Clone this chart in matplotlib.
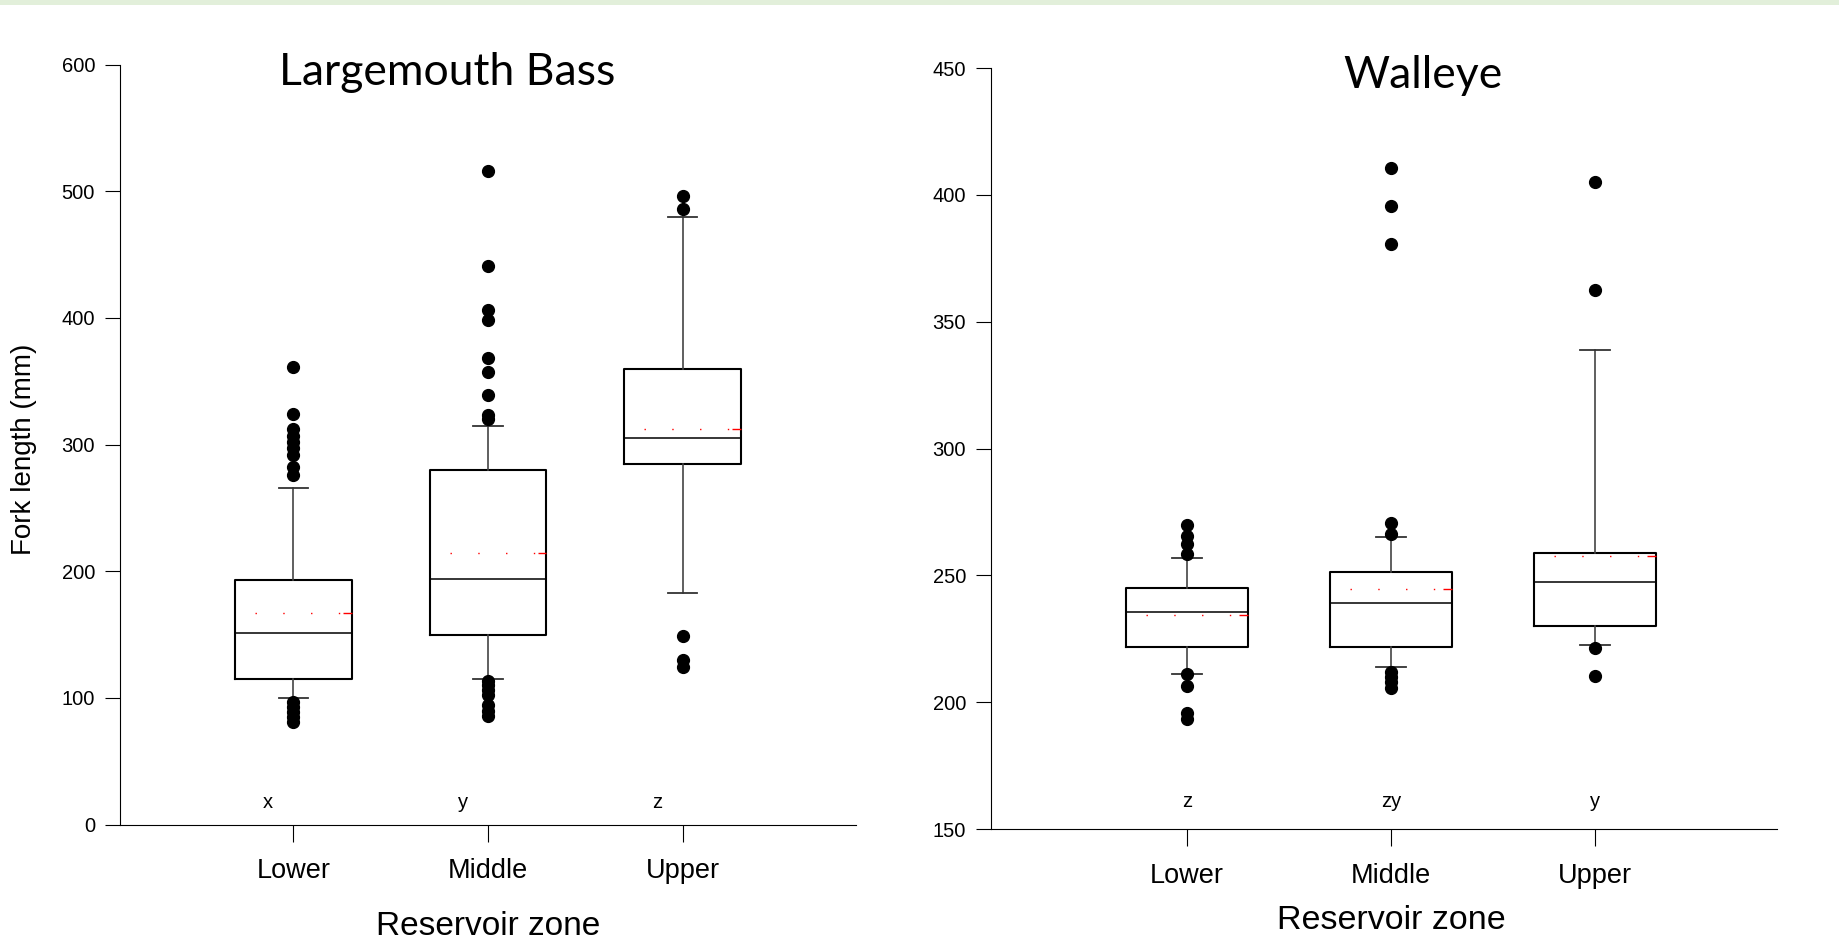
import matplotlib
matplotlib.use('Agg')
import matplotlib.pyplot as plt
from matplotlib.patches import Rectangle

plt.rcParams['font.family'] = ['Liberation Sans', 'DejaVu Sans']

zones = ['Lower', 'Middle', 'Upper']
positions = [1, 2, 3]

# Largemouth Bass fork length (mm)
bass_q1 = [115, 150, 285]
bass_med = [151, 194, 305]
bass_q3 = [193, 280, 360]
bass_lo = [100, 115, 183]
bass_hi = [266, 315, 480]
bass_mean = [167, 214, 312]
bass_fliers = [[361, 324, 312, 307, 302, 297, 292, 282, 276, 97, 93, 89, 85, 81],
               [516, 441, 406, 398, 368, 357, 339, 323, 320, 113, 110, 106, 102, 94, 90, 86],
               [496, 486, 149, 130, 124]]
bass_letters = ['x', 'y', 'z']

# Walleye fork length (mm)
walleye_q1 = [221.7, 222, 230]
walleye_med = [235.5, 239, 247.5]
walleye_q3 = [245.2, 251.5, 259]
walleye_lo = [211, 214, 222.5]
walleye_hi = [257, 265, 339]
walleye_mean = [234.5, 244.5, 257.7]
walleye_fliers = [[270, 265.5, 262.5, 258.5, 211, 206.5, 196, 193.5],
                  [410.5, 395.5, 380.5, 270.5, 266.5, 212, 210, 208, 205.5],
                  [405, 362.5, 221.5, 210.5]]
walleye_letters = ['z', 'zy', 'y']


def make_stats(q1, med, q3, lo, hi, mean, fliers):
    stats = []
    for i in range(len(q1)):
        stats.append({'q1': q1[i], 'med': med[i], 'q3': q3[i], 'whislo': lo[i],
                      'whishi': hi[i], 'mean': mean[i], 'fliers': fliers[i]})
    return stats


def draw_panel(ax, stats, title, title_x, ylim, yticks, letters, letter_y, letter_dx, xlim):
    w = 0.6
    ax.bxp(stats, positions=positions, widths=w, capwidths=0.15,
           showmeans=True, meanline=True, showfliers=True,
           boxprops=dict(color='black', lw=1.5),
           medianprops=dict(color='black', lw=1.1),
           whiskerprops=dict(color='#444444', lw=1.2),
           capprops=dict(color='#333333', lw=1.3),
           meanprops=dict(color='red', lw=1.0, linestyle=(5.6, (1, 19))),
           flierprops=dict(marker='o', markerfacecolor='black', markeredgecolor='black',
                           markersize=8.5, linestyle='none'))
    # short solid end of the mean line
    for p, s in zip(positions, stats):
        ax.hlines(s['mean'], p + w / 2 - 0.045, p + w / 2, colors='red', lw=1.0)

    for p, t in zip(positions, letters):
        ax.text(p + letter_dx, letter_y, t, ha='center', va='center', fontsize=14.5)

    ax.set_xlim(xlim)
    ax.set_ylim(ylim)
    ax.set_yticks(yticks)
    ax.set_xticks(positions)
    ax.set_xticklabels(zones, fontsize=19.5)
    ax.tick_params(axis='y', labelsize=14.5, length=11, width=0.8, pad=7, direction='out')
    ax.tick_params(axis='x', length=12, width=0.8, pad=12, direction='out')
    ax.spines['top'].set_visible(False)
    ax.spines['right'].set_visible(False)
    ax.spines['left'].set_linewidth(0.8)
    ax.spines['bottom'].set_linewidth(0.8)
    ax.text(title_x, 0.99, title, transform=ax.transAxes, ha='center', va='center',
            fontsize=32, family=['Lato', 'DejaVu Sans'])


fig = plt.figure(figsize=(18.39, 9.42), dpi=100)
fig.patches.append(Rectangle((0, 1 - 5 / 942), 1, 5 / 942, transform=fig.transFigure,
                             facecolor='#e2efda', edgecolor='none'))

ax1 = fig.add_axes([0.0653, 0.1247, 0.4002, 0.8068])
ax2 = fig.add_axes([0.5389, 0.1197, 0.4273, 0.8081])

draw_panel(ax1, make_stats(bass_q1, bass_med, bass_q3, bass_lo, bass_hi, bass_mean, bass_fliers),
           'Largemouth Bass', 0.444, (0, 600), range(0, 601, 100), bass_letters, 17.5, -0.13,
           (0.11, 3.89))
draw_panel(ax2, make_stats(walleye_q1, walleye_med, walleye_q3, walleye_lo, walleye_hi, walleye_mean,
                           walleye_fliers),
           'Walleye', 0.549, (150, 450), range(150, 451, 50), walleye_letters, 161, 0.0,
           (0.04, 3.89))

ax1.set_ylabel('Fork length (mm)', fontsize=20)
ax1.yaxis.set_label_coords(-0.131, 0.494)
ax1.yaxis.label.set_va('center')

ax1.set_xlabel('Reservoir zone', fontsize=24)
ax1.xaxis.set_label_coords(0.5, -0.134)
ax1.xaxis.label.set_va('center')
ax2.set_xlabel('Reservoir zone', fontsize=24.5)
ax2.xaxis.set_label_coords(0.51, -0.120)
ax2.xaxis.label.set_va('center')

fig.savefig('out.png', dpi=100)
